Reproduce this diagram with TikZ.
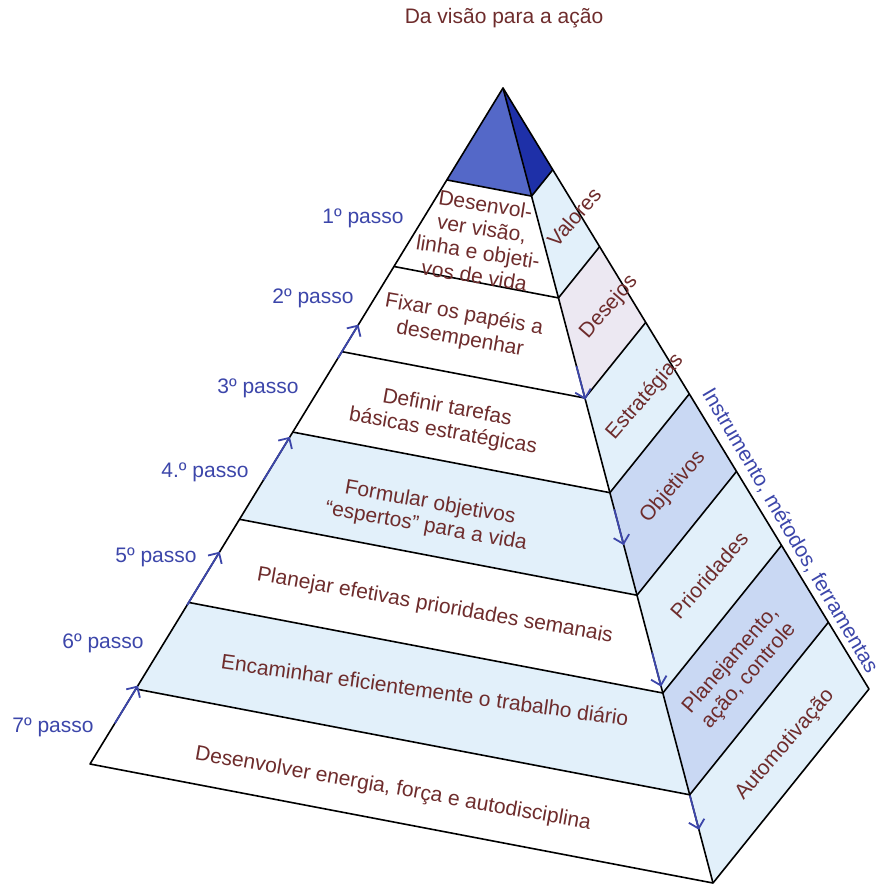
\documentclass[tikz,border=0pt]{standalone}
\usepackage{fontspec}
\setmainfont{Liberation Sans}
\usepackage{xcolor}
\usetikzlibrary{calc,arrows.meta}

\definecolor{capblue}{RGB}{84,104,200}
\definecolor{capdark}{RGB}{30,48,168}
\definecolor{bandlight}{RGB}{226,240,250}
\definecolor{bandmid}{RGB}{201,216,243}
\definecolor{bandpink}{RGB}{236,232,242}
\definecolor{labelbrown}{RGB}{110,44,44}
\definecolor{stepblue}{RGB}{60,70,170}

\begin{document}
\begin{tikzpicture}[
    x=1pt, y=-1pt,
    font=\fontsize{21}{24}\selectfont,
    edge/.style={
        draw=black,
        line width=1.6pt,
        line join=round
    },
    frontlabel/.style={
        text=labelbrown,
        align=center,
        rotate=-10
    },
    sidelabel/.style={
        text=labelbrown,
        align=center,
        rotate=49
    },
    steplabel/.style={
        text=stepblue
    },
    stepmark/.style={
        -{Straight Barb[length=8pt,width=16pt]},
        stepblue,
        line width=1.8pt
    }
]
\useasboundingbox (0,0) rectangle (882,884);

% Corners of the pyramid
\coordinate (apex) at (503,88);
\coordinate (baseL) at (90,764);
\coordinate (baseR) at (713,883);
\coordinate (baseQ) at (869,689);

% Level points on the three edges
\foreach \t [count=\i from 0] in {0.136,0.264,0.390,0.509,0.638,0.761,0.889,1} {
    \coordinate (l\i) at ($(apex)!\t!(baseL)$);
    \coordinate (r\i) at ($(apex)!\t!(baseR)$);
    \coordinate (q\i) at ($(apex)!\t!(baseQ)$);
}

% Top of the pyramid
\fill[capblue] (apex) -- (l0) -- (r0) -- cycle;
\fill[capdark] (apex) -- (r0) -- (q0) -- cycle;

% Front bands
\foreach \col [count=\j] in {white,white,white,bandlight,white,bandlight,white} {
    \pgfmathtruncatemacro{\prev}{\j-1}
    \fill[\col] (l\prev) -- (r\prev) -- (r\j) -- (l\j) -- cycle;
}
% Side bands
\foreach \col [count=\j] in {bandlight,bandpink,bandlight,bandmid,bandlight,bandmid,bandlight} {
    \pgfmathtruncatemacro{\prev}{\j-1}
    \fill[\col] (r\prev) -- (q\prev) -- (q\j) -- (r\j) -- cycle;
}

% Outline and level lines
\draw[edge] (apex) -- (baseL) -- (baseR) -- (baseQ) -- cycle;
\draw[edge] (apex) -- (baseR);
\foreach \i in {0,...,6} {
    \draw[edge] (l\i) -- (r\i) -- (q\i);
}

% Steps going up
\draw[stepmark] ($(apex)!0.400!(baseL)$) -- ($(apex)!0.350!(baseL)$);
\draw[stepmark] ($(apex)!0.580!(baseL)$) -- ($(apex)!0.516!(baseL)$);
\draw[stepmark] ($(apex)!0.765!(baseL)$) -- ($(apex)!0.686!(baseL)$);
\draw[stepmark] ($(apex)!0.940!(baseL)$) -- ($(apex)!0.884!(baseL)$);
% Steps going down
\draw[stepmark] ($(apex)!0.350!(baseR)$) -- ($(apex)!0.392!(baseR)$);
\draw[stepmark] ($(apex)!0.530!(baseR)$) -- ($(apex)!0.575!(baseR)$);
\draw[stepmark] ($(apex)!0.710!(baseR)$) -- ($(apex)!0.753!(baseR)$);
\draw[stepmark] ($(apex)!0.890!(baseR)$) -- ($(apex)!0.933!(baseR)$);

% Title
\node[text=labelbrown] (title) at (504,18) {Da visão para a ação};

% Front labels
\node[frontlabel, rotate=1] (lev1) at (480,240) {Desenvol-\\ver visão,\\linha e objeti-\\vos de vida};
\node[frontlabel] (lev2) at (462,327) {Fixar os papéis a\\desempenhar};
\node[frontlabel] (lev3) at (445,420) {Definir tarefas\\básicas estratégicas};
\node[frontlabel] (lev4) at (428,515) {Formular objetivos\\“espertos” para a vida};
\node[frontlabel] (lev5) at (435,606) {Planejar efetivas prioridades semanais};
\node[frontlabel, rotate=2] (lev6) at (425,690) {Encaminhar eficientemente o trabalho diário};
\node[frontlabel] (lev7) at (393,789) {Desenvolver energia, força e autodisciplina};

% Side labels
\node[sidelabel] (side1) at (574,217) {Valores};
\node[sidelabel] (side2) at (609,307) {Desejos};
\node[sidelabel] (side3) at (645,397) {Estratégias};
\node[sidelabel] (side4) at (673,487) {Objetivos};
\node[sidelabel] (side5) at (709,575) {Prioridades};
\node[sidelabel] (side6) at (740,668) {Planejamento,\\ação, controle};
\node[sidelabel] (side7) at (785,745) {Automotivação};

% Along the right edge
\node[steplabel, rotate=-59.5] (tools) at (790,531) {Instrumento, métodos, ferramentas};

% Step labels
\node[steplabel] (step1) at (363,218) {1º passo};
\node[steplabel] (step2) at (313,298) {2º passo};
\node[steplabel] (step3) at (258,388) {3º passo};
\node[steplabel] (step4) at (205,472) {4.º passo};
\node[steplabel] (step5) at (156,557) {5º passo};
\node[steplabel] (step6) at (103,643) {6º passo};
\node[steplabel] (step7) at (53,727) {7º passo};
\end{tikzpicture}
\end{document}
